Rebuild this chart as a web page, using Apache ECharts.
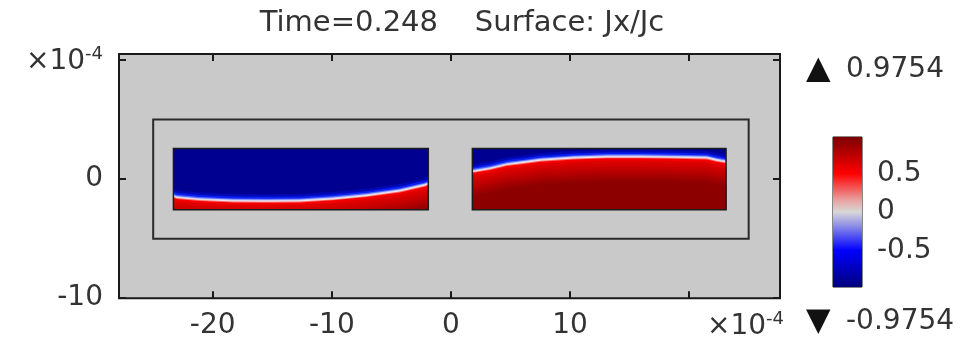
<!DOCTYPE html>
<html>
<head>
<meta charset="utf-8">
<script src="https://cdn.jsdelivr.net/npm/echarts@6/dist/echarts.min.js"></script>
<style>
  html, body { margin: 0; padding: 0; background: #ffffff; }
  #chart { width: 969px; height: 347px; }
</style>
</head>
<body>
<div id="chart"></div>
<script>
// ---- geometry (units of 1e-4 m) ----
const xRange = [-27.87, 27.63];
const yRange = [-10, 10.5];
const xTicks = [-20, -10, 0, 10, 20];
const xTickLabels = [-20, -10, 0, 10];
const yTicks = [-10, 0, 10];
const yTickLabels = [-10, 0];

// air box drawn around the two strips
const frameX = [-25, 25];
const frameY = [-5, 5];

// superconducting strips
const stripX0 = [-23.3, 1.8];
const stripX1 = [-1.9, 23.1];
const stripY0 = [-2.57, -2.57];
const stripY1 = [2.57, 2.57];

// Jx/Jc = 0 front inside each strip (blue above, red below)
const frontLeftX = [-23.3, -23.0, -21.1, -18.3, -15.5, -12.7, -9.9, -7.1, -4.3, -2.2, -1.9];
const frontLeftY = [-1.45, -1.55, -1.72, -1.84, -1.86, -1.84, -1.67, -1.39, -1.00, -0.52, -0.40];
const frontRightX = [1.8, 1.9, 3.3, 4.7, 6.1, 7.5, 10.3, 13.1, 15.9, 18.7, 21.5, 22.3, 23.1];
const frontRightY = [0.62, 0.64, 0.88, 1.22, 1.39, 1.58, 1.77, 1.86, 1.86, 1.83, 1.77, 1.58, 1.44];

// colour range
const colorRange = [-0.9754, 0.9754];
const colorTicks = [0.5, 0, -0.5];
const cmapValues = [-0.9754, -0.5, -0.15, 0, 0.15, 0.5, 0.9754];
const cmapColors = ['#00007c', '#0000ff', '#9a9ae4', '#d8d8d8', '#e8a2a2', '#ff0000', '#7c0000'];

const FONT = 'DejaVu Sans';
const TXT = '#333333';

// layered shading across the front: pixel offset of the front, fill colour
const deepBlue = '#000090';
const bandStack = [
  { dy: -7, color: '#0008b4' },
  { dy: -4.5, color: '#0a1ef2' },
  { dy: -2.6, color: '#5a6cff' },
  { dy: -1.4, color: '#c8cdf4' },
  { dy: -0.4, color: '#eee4ea' },
  { dy: 0.5, color: '#ff6a6a' },
  { dy: 1.4, color: '#f40000' }
];
// darkening of the red side with depth below the front
(function () {
  const steps = 14;
  const from = [232, 0, 0], to = [140, 0, 0];
  for (let k = 1; k <= steps; k++) {
    const t = k / steps;
    const c = from.map((v, j) => Math.round(v + (to[j] - v) * t));
    bandStack.push({ dy: 2 + k * 1.6, color: 'rgb(' + c.join(',') + ')' });
  }
})();

const fronts = [
  { x: frontLeftX, y: frontLeftY },
  { x: frontRightX, y: frontRightY }
];

function renderStrip(params, api) {
  const i = api.value(2);
  const tl = api.coord([stripX0[i], stripY1[i]]);
  const br = api.coord([stripX1[i], stripY0[i]]);
  const left = tl[0], top = tl[1], right = br[0], bottom = br[1];
  const f = fronts[i];
  const front = f.x.map((x, k) => api.coord([x, f.y[k]]));
  const children = [{
    type: 'rect',
    shape: { x: left, y: top, width: right - left, height: bottom - top },
    style: { fill: deepBlue }
  }];
  bandStack.forEach(b => {
    const pts = front.map(p => [
      Math.min(right, Math.max(left, p[0])),
      Math.min(bottom, Math.max(top, p[1] + b.dy))
    ]);
    pts.push([right, bottom], [left, bottom]);
    children.push({ type: 'polygon', shape: { points: pts }, style: { fill: b.color } });
  });
  children.push({
    type: 'rect',
    shape: { x: left, y: top, width: right - left, height: bottom - top },
    style: { fill: 'none', stroke: '#1c1c1c', lineWidth: 1.5 }
  });
  return { type: 'group', children: children };
}

function renderFrame(params, api) {
  const tl = api.coord([frameX[0], frameY[1]]);
  const br = api.coord([frameX[1], frameY[0]]);
  return {
    type: 'rect',
    shape: { x: tl[0], y: tl[1], width: br[0] - tl[0], height: br[1] - tl[1] },
    style: { fill: 'none', stroke: '#2a2a2a', lineWidth: 2 }
  };
}

function renderColorBar(params, api) {
  const tl = api.coord([0, colorRange[1]]);
  const br = api.coord([1, colorRange[0]]);
  const span = colorRange[1] - colorRange[0];
  const stops = cmapValues.map((v, k) => ({
    offset: (colorRange[1] - v) / span,
    color: cmapColors[k]
  })).reverse();
  return {
    type: 'rect',
    shape: { x: tl[0], y: tl[1], width: br[0] - tl[0], height: br[1] - tl[1] },
    style: { fill: new echarts.graphic.LinearGradient(0, 0, 0, 1, stops) }
  };
}

const tickStyle = { color: '#1a1a1a', width: 2 };
const labelStyle = { fontFamily: FONT, fontSize: 28, color: TXT };
const hiddenLine = { show: false, onZero: false };

const chart = echarts.init(document.getElementById('chart'), null, { renderer: 'canvas' });

chart.setOption({
  animation: false,
  backgroundColor: '#ffffff',
  grid: [
    { left: 119, top: 54, width: 661, height: 244.2, show: true,
      backgroundColor: '#c9c9c9', borderColor: '#1a1a1a', borderWidth: 2 },
    { left: 833, top: 137, width: 29, height: 150, show: true,
      backgroundColor: 'transparent', borderColor: '#111111', borderWidth: 1 }
  ],
  xAxis: [
    { gridIndex: 0, type: 'value', position: 'bottom', min: xRange[0], max: xRange[1],
      axisLine: hiddenLine, splitLine: { show: false },
      axisTick: { show: true, inside: true, length: 7, lineStyle: tickStyle, customValues: xTicks },
      axisLabel: Object.assign({ customValues: xTickLabels, margin: 14 }, labelStyle) },
    { gridIndex: 0, type: 'value', position: 'top', min: xRange[0], max: xRange[1],
      axisLine: hiddenLine, splitLine: { show: false },
      axisTick: { show: true, inside: true, length: 7, lineStyle: tickStyle, customValues: xTicks },
      axisLabel: { show: false } },
    { gridIndex: 1, type: 'value', min: 0, max: 1, show: false }
  ],
  yAxis: [
    { gridIndex: 0, type: 'value', position: 'left', min: yRange[0], max: yRange[1],
      axisLine: hiddenLine, splitLine: { show: false },
      axisTick: { show: true, inside: true, length: 7, lineStyle: tickStyle, customValues: yTicks },
      axisLabel: Object.assign({ customValues: yTickLabels, margin: 16 }, labelStyle) },
    { gridIndex: 0, type: 'value', position: 'right', min: yRange[0], max: yRange[1],
      axisLine: hiddenLine, splitLine: { show: false },
      axisTick: { show: true, inside: true, length: 7, lineStyle: tickStyle, customValues: yTicks },
      axisLabel: { show: false } },
    { gridIndex: 1, type: 'value', position: 'left', min: colorRange[0], max: colorRange[1],
      axisLine: hiddenLine, splitLine: { show: false },
      axisTick: { show: true, inside: true, length: 4, lineStyle: { color: '#222', width: 1.5 }, customValues: colorTicks },
      axisLabel: { show: false } },
    { gridIndex: 1, type: 'value', position: 'right', min: colorRange[0], max: colorRange[1],
      axisLine: hiddenLine, splitLine: { show: false },
      axisTick: { show: true, inside: true, length: 4, lineStyle: { color: '#222', width: 1.5 }, customValues: colorTicks },
      axisLabel: Object.assign({ customValues: colorTicks, margin: 15,
        formatter: v => String(v) }, labelStyle) }
  ],
  series: [
    { type: 'custom', xAxisIndex: 0, yAxisIndex: 0, silent: true,
      data: [[0, 0]], renderItem: renderFrame, z: 2 },
    { type: 'custom', xAxisIndex: 0, yAxisIndex: 0, silent: true,
      data: [[(stripX0[0] + stripX1[0]) / 2, 0, 0], [(stripX0[1] + stripX1[1]) / 2, 0, 1]],
      encode: { x: 0, y: 1 }, renderItem: renderStrip, z: 3 },
    { type: 'custom', xAxisIndex: 2, yAxisIndex: 2, silent: true,
      data: [[0.5, 0]], renderItem: renderColorBar, z: 1 }
  ],
  graphic: [
    { type: 'text', x: 462, y: 23, silent: true,
      style: { text: 'Time=0.248    Surface: Jx/Jc', fontFamily: FONT, fontSize: 29, fill: TXT,
        align: 'center', verticalAlign: 'middle' } },
    { type: 'text', x: 103, y: 62, silent: true,
      style: { text: '{a|×10}{b|-4}', align: 'right', verticalAlign: 'middle',
        rich: { a: { fontFamily: FONT, fontSize: 28, fill: TXT, lineHeight: 34 },
                b: { fontFamily: FONT, fontSize: 18, fill: TXT, verticalAlign: 'top', lineHeight: 34 } } } },
    { type: 'text', x: 707, y: 327, silent: true,
      style: { text: '{a|×10}{b|-4}', align: 'left', verticalAlign: 'middle',
        rich: { a: { fontFamily: FONT, fontSize: 28, fill: TXT, lineHeight: 34 },
                b: { fontFamily: FONT, fontSize: 18, fill: TXT, verticalAlign: 'top', lineHeight: 34 } } } },
    { type: 'text', x: 806, y: 70, silent: true,
      style: { text: '▲', fontFamily: FONT, fontSize: 32, fill: '#111', align: 'left', verticalAlign: 'middle' } },
    { type: 'text', x: 846, y: 70, silent: true,
      style: { text: String(colorRange[1]), fontFamily: FONT, fontSize: 28, fill: TXT, align: 'left', verticalAlign: 'middle' } },
    { type: 'text', x: 806, y: 322, silent: true,
      style: { text: '▼', fontFamily: FONT, fontSize: 32, fill: '#111', align: 'left', verticalAlign: 'middle' } },
    { type: 'text', x: 846, y: 322, silent: true,
      style: { text: String(colorRange[0]), fontFamily: FONT, fontSize: 28, fill: TXT, align: 'left', verticalAlign: 'middle' } }
  ]
});
</script>
</body>
</html>
